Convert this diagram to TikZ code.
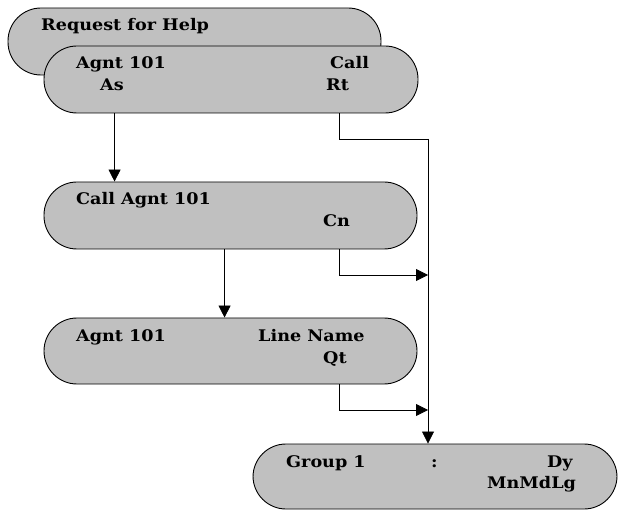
\documentclass[tikz,border=0pt]{standalone}
\usepackage{fontspec}
\setmainfont{DejaVu Serif}
\usetikzlibrary{arrows.meta}
\definecolor{pillgray}{RGB}{192,192,192}
\newcommand{\tx}[1]{\scalebox{1.1}[1]{\bfseries #1}}
\begin{document}
\begin{tikzpicture}[x=1pt,y=-1pt,
  pill/.style={draw=black, line width=0.9pt, fill=pillgray, rounded corners=33pt},
  lbl/.style={anchor=base west, inner sep=0pt, font=\fontsize{16}{18}\selectfont},
  arr/.style={draw=black, line width=0.8pt, -{Triangle[length=12pt,width=12pt]}},
  ln/.style={draw=black, line width=0.8pt}]
\useasboundingbox (0,0) rectangle (618,510);
% shapes
\node[pill, minimum width=373pt, minimum height=67pt, inner sep=0pt] (s1) at (194.5,41.5) {};
\node[pill, minimum width=374pt, minimum height=67pt, inner sep=0pt] (s2) at (231,79.5) {};
\node[pill, minimum width=373pt, minimum height=67pt, inner sep=0pt] (s3) at (230.5,215.5) {};
\node[pill, minimum width=373pt, minimum height=66pt, inner sep=0pt] (s4) at (230.5,351) {};
\node[pill, minimum width=364pt, minimum height=65pt, inner sep=0pt] (s5) at (435,476.5) {};
% texts
\node[lbl] (t1) at (41,30.5) {\tx{Request for Help}};
\node[lbl] (t2) at (76,68.5) {\tx{Agnt 101}};
\node[lbl] (t3) at (100,90.5) {\tx{As}};
\node[lbl] (t4) at (330,68.5) {\tx{Call}};
\node[lbl] (t5) at (326,90.5) {\tx{Rt}};
\node[lbl] (t6) at (76,205) {\tx{Call Agnt 101}};
\node[lbl] (t7) at (323,227) {\tx{Cn}};
\node[lbl] (t8) at (76,341.5) {\tx{Agnt 101}};
\node[lbl] (t9) at (258,341.5) {\tx{Line Name}};
\node[lbl] (t10) at (323,363) {\tx{Qt}};
\node[lbl] (t11) at (286,467) {\tx{Group 1}};
\node[lbl] (t12) at (431,467) {\tx{:}};
\node[lbl] (t13) at (547,467) {\tx{Dy}};
\node[lbl] (t14) at (487,488) {\tx{MnMdLg}};
% bus coordinates
\coordinate (b1) at (428,139);
\coordinate (b2) at (428,275);
\coordinate (b3) at (428,410);
% connectors
\draw[arr] ([xshift=71pt]s2.south west) -- ([xshift=71pt]s3.north west);
\draw[arr] ([xshift=181pt]s3.south west) -- ([xshift=181pt]s4.north west);
\draw[ln] ([xshift=-79pt]s2.south east) |- (b1);
\draw[arr] (b1) -- (b1 |- s5.north);
\draw[arr] ([xshift=-78pt]s3.south east) |- (b2);
\draw[arr] ([xshift=-78pt]s4.south east) |- (b3);
\end{tikzpicture}
\end{document}
